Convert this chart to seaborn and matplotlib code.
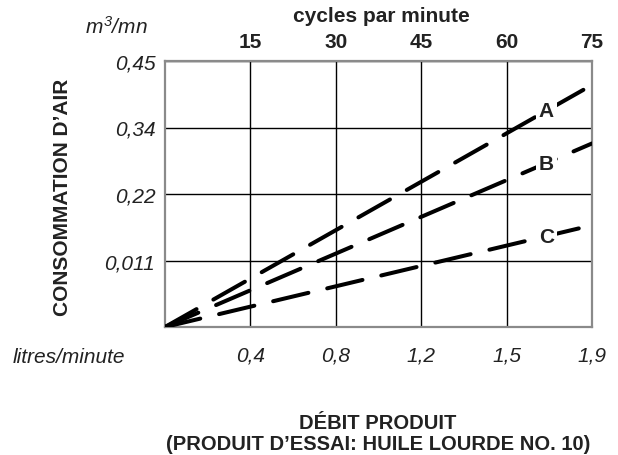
import numpy as np
import pandas as pd
import matplotlib
matplotlib.use("Agg")
import matplotlib.pyplot as plt
import seaborn as sns

# ---- data ----
courbes = ["A", "B", "C"]
cycles = [0, 75]                      # cycles par minute
conso_A = [0.0, 3.64]                 # position in grid rows (0..4)
conso_B = [0.0, 2.76]
conso_C = [0.0, 1.53]
top_ticks = [15, 30, 45, 60, 75]
top_labels = ["15", "30", "45", "60", "75"]
bottom_labels = ["0,4", "0,8", "1,2", "1,5", "1,9"]
y_ticks = [1, 2, 3, 4]
y_labels = ["0,011", "0,22", "0,34", "0,45"]

df = pd.DataFrame({
    "cycles": cycles * 3,
    "conso": conso_A + conso_B + conso_C,
    "courbe": sum([[c] * len(cycles) for c in courbes], []),
})

sns.set_style("white")
plt.rcParams["font.family"] = ["Liberation Sans", "DejaVu Sans"]
plt.rcParams["mathtext.fontset"] = "custom"
plt.rcParams["mathtext.it"] = "Liberation Sans:italic"
plt.rcParams["mathtext.rm"] = "Liberation Sans:italic"

W, H = 618, 456
fig = plt.figure(figsize=(W / 100, H / 100), dpi=100)
ax = fig.add_axes([165 / W, 1 - 328 / H, 427 / W, 266 / H])

sns.lineplot(data=df, x="cycles", y="conso", hue="courbe",
             palette=["black"] * 3, linewidth=2.9, legend=False, ax=ax,
             zorder=3)
for ln in ax.lines:
    ln.set_dashes((9, 4.8))
    ln.set_dash_capstyle("round")
    ln.set_solid_capstyle("round")
    ln.set_clip_on(True)

ax.set_xlim(0, 75)
ax.set_ylim(0, 4)
ax.set_xlabel("")
ax.set_ylabel("")

ax.set_xticks(top_ticks)
ax.set_xticklabels(bottom_labels, fontsize=15, style="italic")
ax.set_yticks(y_ticks)
ax.set_yticklabels(y_labels, fontsize=15, style="italic")
ax.tick_params(axis="x", length=0, pad=13, colors="#222222")
ax.tick_params(axis="y", length=0, pad=7, colors="#222222")

sec = ax.secondary_xaxis("top")
sec.set_xticks(top_ticks)
sec.set_xticklabels(top_labels, fontsize=15, fontweight="bold")
sec.tick_params(length=0, pad=7, colors="#222222")
for s in sec.spines.values():
    s.set_visible(False)

ax.grid(True, color="black", linewidth=1.0)
ax.set_axisbelow(True)
for s in ax.spines.values():
    s.set_visible(True)
    s.set_color("#8a8a8a")
    s.set_linewidth(1.6)

# curve labels, placed on each curve
label_x = 67
ends = {"A": conso_A[-1], "B": conso_B[-1], "C": conso_C[-1]}
for c in courbes:
    ax.text(label_x, ends[c] * label_x / cycles[-1], c, fontsize=15,
            fontweight="bold", ha="center", va="center", color="#222222",
            zorder=4,
            bbox=dict(boxstyle="square,pad=0.12", fc="white", ec="none"))

fig.text(381 / W, 1 - 16 / H, "cycles par minute", fontsize=15,
         fontweight="bold", ha="center", va="center", color="#222222")
fig.text(85 / W, 1 - 27 / H, r"$m^{3}/mn$", fontsize=15,
         ha="left", va="center", color="#222222")
fig.text(13 / W, 1 - 358 / H, "litres/minute", fontsize=15,
         style="italic", ha="left", va="center", color="#222222")
fig.text(63 / W, 1 - 197 / H, "CONSOMMATION D’AIR", fontsize=15,
         fontweight="bold", rotation=90, ha="center", va="center",
         color="#222222")
fig.text(378 / W, 1 - 424 / H, "DÉBIT PRODUIT", fontsize=14.5,
         fontweight="bold", ha="center", va="center", color="#222222")
fig.text(378 / W, 1 - 445 / H, "(PRODUIT D’ESSAI: HUILE LOURDE NO. 10)",
         fontsize=14.5, fontweight="bold", ha="center", va="center",
         color="#222222")

fig.savefig("out.png", dpi=100, facecolor="white")
